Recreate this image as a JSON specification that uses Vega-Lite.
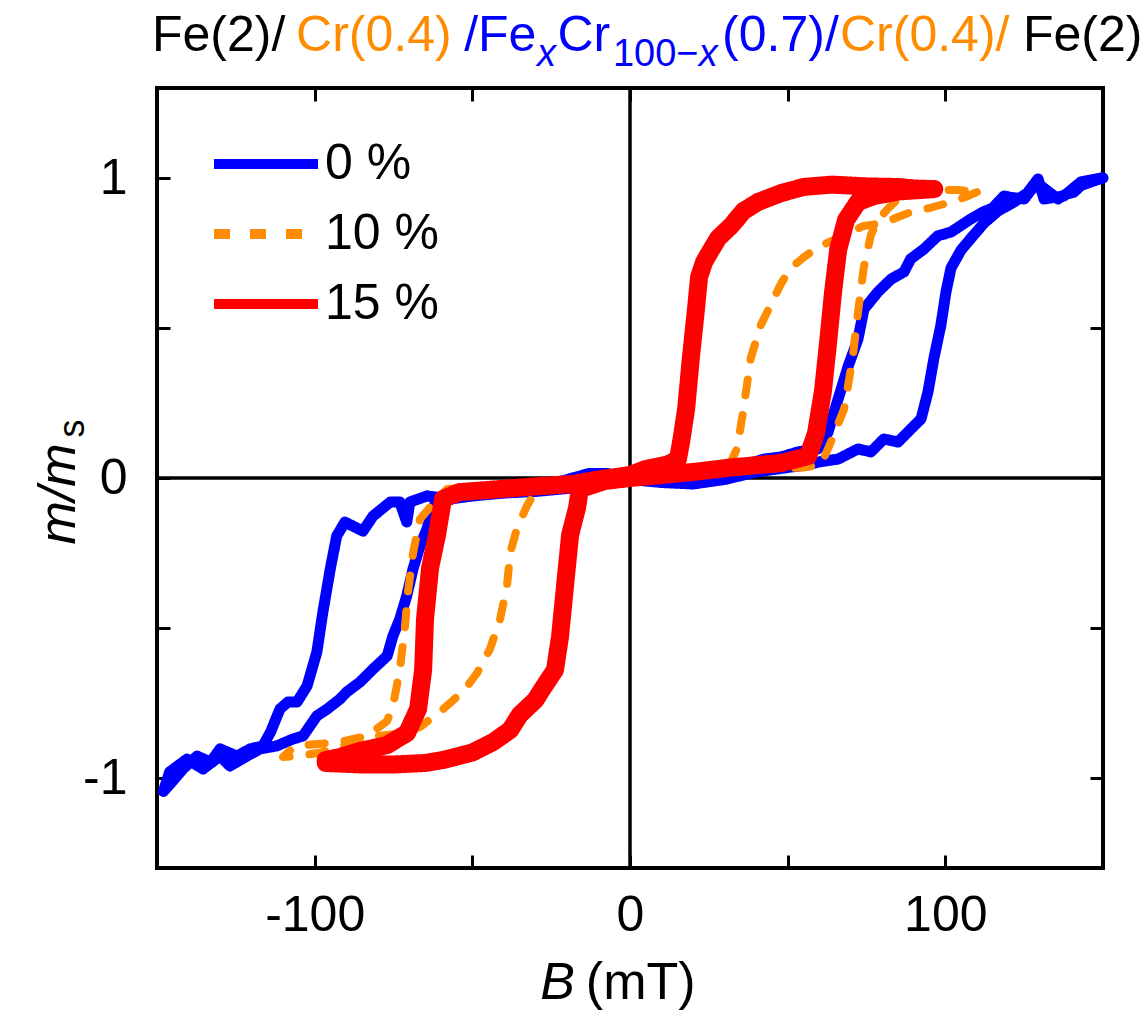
{
"$schema": "https://vega.github.io/schema/vega-lite/v6.json",
"width": 946, "height": 780,
"autosize": {"type": "none"},
"padding": {"left": 157, "top": 88, "right": 43, "bottom": 156},
"background": "white",
"config": {
  "font": "Liberation Sans",
  "view": {"stroke": "black", "strokeWidth": 4},
  "axis": {"domain": false, "grid": false, "tickColor": "black", "tickWidth": 3, "labelColor": "black", "labelFont": "Liberation Sans", "labelFontSize": 50, "title": null},
  "legend": {"orient": "top-left", "offset": 27, "padding": 4, "symbolOffset": 33, "symbolType": "M-1.3,0L1.3,0", "symbolSize": 6400, "symbolStrokeWidth": 10, "labelFontSize": 50, "labelColor": "black", "labelFont": "Liberation Sans", "rowPadding": -2, "labelOffset": 14, "title": null}
},
"datasets": {
"loops": [
{"series":"0 %","B":150,"m":1.0},{"series":"0 %","B":147,"m":0.99},{"series":"0 %","B":143,"m":0.975},{"series":"0 %","B":140.8,"m":0.953},{"series":"0 %","B":138,"m":0.945},{"series":"0 %","B":135.7,"m":0.93},{"series":"0 %","B":132,"m":0.96},{"series":"0 %","B":129,"m":0.985},{"series":"0 %","B":125,"m":0.93},{"series":"0 %","B":121,"m":0.935},{"series":"0 %","B":118.6,"m":0.94},{"series":"0 %","B":115,"m":0.9},{"series":"0 %","B":112,"m":0.887},{"series":"0 %","B":108,"m":0.863},{"series":"0 %","B":104,"m":0.835},{"series":"0 %","B":101.8,"m":0.82},{"series":"0 %","B":97.6,"m":0.807},{"series":"0 %","B":93.2,"m":0.763},{"series":"0 %","B":89,"m":0.73},{"series":"0 %","B":86.9,"m":0.687},{"series":"0 %","B":82.8,"m":0.663},{"series":"0 %","B":78.6,"m":0.62},{"series":"0 %","B":74.2,"m":0.563},{"series":"0 %","B":72.3,"m":0.463},{"series":"0 %","B":69.2,"m":0.373},{"series":"0 %","B":66,"m":0.263},{"series":"0 %","B":62.8,"m":0.153},{"series":"0 %","B":59.6,"m":0.097},{"series":"0 %","B":53.3,"m":0.087},{"series":"0 %","B":47.9,"m":0.07},{"series":"0 %","B":42.5,"m":0.063},{"series":"0 %","B":37.4,"m":0.047},{"series":"0 %","B":26.6,"m":0.03},{"series":"0 %","B":18,"m":0.02},{"series":"0 %","B":10.8,"m":0.007},{"series":"0 %","B":0,"m":0.0},{"series":"0 %","B":-10,"m":-0.02},{"series":"0 %","B":-20,"m":-0.035},{"series":"0 %","B":-30,"m":-0.045},{"series":"0 %","B":-40,"m":-0.05},{"series":"0 %","B":-50,"m":-0.06},{"series":"0 %","B":-57,"m":-0.07},{"series":"0 %","B":-64.4,"m":-0.06},{"series":"0 %","B":-69.8,"m":-0.08},{"series":"0 %","B":-70.8,"m":-0.147},{"series":"0 %","B":-73,"m":-0.08},{"series":"0 %","B":-76,"m":-0.08},{"series":"0 %","B":-81.5,"m":-0.127},{"series":"0 %","B":-84.7,"m":-0.177},{"series":"0 %","B":-90.4,"m":-0.147},{"series":"0 %","B":-93,"m":-0.193},{"series":"0 %","B":-95,"m":-0.3},{"series":"0 %","B":-97.4,"m":-0.447},{"series":"0 %","B":-99.3,"m":-0.58},{"series":"0 %","B":-102.4,"m":-0.693},{"series":"0 %","B":-105.6,"m":-0.747},{"series":"0 %","B":-108.5,"m":-0.747},{"series":"0 %","B":-111,"m":-0.77},{"series":"0 %","B":-114,"m":-0.847},{"series":"0 %","B":-116.4,"m":-0.893},{"series":"0 %","B":-120.5,"m":-0.903},{"series":"0 %","B":-124.6,"m":-0.927},{"series":"0 %","B":-130,"m":-0.903},{"series":"0 %","B":-133,"m":-0.947},{"series":"0 %","B":-137.3,"m":-0.927},{"series":"0 %","B":-141.8,"m":-0.97},{"series":"0 %","B":-145,"m":-1.01},{"series":"0 %","B":-148,"m":-1.045},
{"series":"0 %","B":-146,"m":-0.98},{"series":"0 %","B":-140.5,"m":-0.937},{"series":"0 %","B":-135.4,"m":-0.97},{"series":"0 %","B":-130,"m":-0.927},{"series":"0 %","B":-126.9,"m":-0.96},{"series":"0 %","B":-121.5,"m":-0.927},{"series":"0 %","B":-117.3,"m":-0.903},{"series":"0 %","B":-112,"m":-0.893},{"series":"0 %","B":-106.9,"m":-0.87},{"series":"0 %","B":-103.7,"m":-0.86},{"series":"0 %","B":-99.3,"m":-0.793},{"series":"0 %","B":-96,"m":-0.77},{"series":"0 %","B":-92,"m":-0.737},{"series":"0 %","B":-89.8,"m":-0.713},{"series":"0 %","B":-85.6,"m":-0.68},{"series":"0 %","B":-81.5,"m":-0.637},{"series":"0 %","B":-77,"m":-0.593},{"series":"0 %","B":-75.2,"m":-0.527},{"series":"0 %","B":-73,"m":-0.47},{"series":"0 %","B":-70.8,"m":-0.393},{"series":"0 %","B":-68.8,"m":-0.303},{"series":"0 %","B":-66.6,"m":-0.227},{"series":"0 %","B":-64.4,"m":-0.17},{"series":"0 %","B":-62.5,"m":-0.103},{"series":"0 %","B":-61.2,"m":-0.07},{"series":"0 %","B":-57,"m":-0.047},{"series":"0 %","B":-45,"m":-0.04},{"series":"0 %","B":-35,"m":-0.035},{"series":"0 %","B":-25,"m":-0.02},{"series":"0 %","B":-13,"m":0.015},{"series":"0 %","B":-7,"m":0.015},{"series":"0 %","B":0,"m":-0.005},{"series":"0 %","B":10,"m":-0.015},{"series":"0 %","B":20,"m":-0.02},{"series":"0 %","B":30,"m":-0.005},{"series":"0 %","B":40,"m":0.02},{"series":"0 %","B":50,"m":0.035},{"series":"0 %","B":57,"m":0.045},{"series":"0 %","B":59.6,"m":0.053},{"series":"0 %","B":66,"m":0.063},{"series":"0 %","B":72.3,"m":0.097},{"series":"0 %","B":76.4,"m":0.087},{"series":"0 %","B":80.5,"m":0.13},{"series":"0 %","B":85,"m":0.12},{"series":"0 %","B":90,"m":0.173},{"series":"0 %","B":92.3,"m":0.197},{"series":"0 %","B":94.5,"m":0.287},{"series":"0 %","B":96.4,"m":0.4},{"series":"0 %","B":98.6,"m":0.51},{"series":"0 %","B":100.2,"m":0.62},{"series":"0 %","B":101.8,"m":0.7},{"series":"0 %","B":105,"m":0.76},{"series":"0 %","B":109,"m":0.81},{"series":"0 %","B":112.3,"m":0.85},{"series":"0 %","B":116.7,"m":0.89},{"series":"0 %","B":121.8,"m":0.92},{"series":"0 %","B":126,"m":0.95},{"series":"0 %","B":129.4,"m":0.997},{"series":"0 %","B":131.3,"m":0.93},{"series":"0 %","B":137.6,"m":0.94},{"series":"0 %","B":143,"m":0.987},{"series":"0 %","B":149.4,"m":1.0},
{"series":"10 %","B":110,"m":0.953},{"series":"10 %","B":106,"m":0.935},{"series":"10 %","B":101.8,"m":0.92},{"series":"10 %","B":95,"m":0.9},{"series":"10 %","B":90,"m":0.89},{"series":"10 %","B":85,"m":0.87},{"series":"10 %","B":80.5,"m":0.85},{"series":"10 %","B":74,"m":0.84},{"series":"10 %","B":70,"m":0.82},{"series":"10 %","B":66,"m":0.8},{"series":"10 %","B":59.6,"m":0.77},{"series":"10 %","B":55,"m":0.735},{"series":"10 %","B":51,"m":0.7},{"series":"10 %","B":48,"m":0.65},{"series":"10 %","B":45.7,"m":0.6},{"series":"10 %","B":41.5,"m":0.51},{"series":"10 %","B":38.3,"m":0.4},{"series":"10 %","B":36,"m":0.23},{"series":"10 %","B":34,"m":0.1},{"series":"10 %","B":32,"m":0.053},{"series":"10 %","B":25,"m":0.04},{"series":"10 %","B":15,"m":0.03},{"series":"10 %","B":0,"m":0.005},{"series":"10 %","B":-15,"m":-0.015},{"series":"10 %","B":-30,"m":-0.025},{"series":"10 %","B":-45,"m":-0.03},{"series":"10 %","B":-55,"m":-0.033},{"series":"10 %","B":-58,"m":-0.037},{"series":"10 %","B":-61.2,"m":-0.07},{"series":"10 %","B":-66.6,"m":-0.137},{"series":"10 %","B":-68.8,"m":-0.25},{"series":"10 %","B":-70.4,"m":-0.38},{"series":"10 %","B":-71.4,"m":-0.5},{"series":"10 %","B":-73,"m":-0.64},{"series":"10 %","B":-75,"m":-0.75},{"series":"10 %","B":-77,"m":-0.81},{"series":"10 %","B":-83.4,"m":-0.86},{"series":"10 %","B":-92,"m":-0.88},{"series":"10 %","B":-102.4,"m":-0.89},{"series":"10 %","B":-107,"m":-0.9},{"series":"10 %","B":-110,"m":-0.93},
{"series":"10 %","B":-104,"m":-0.925},{"series":"10 %","B":-98,"m":-0.915},{"series":"10 %","B":-90,"m":-0.89},{"series":"10 %","B":-80,"m":-0.86},{"series":"10 %","B":-72,"m":-0.85},{"series":"10 %","B":-66.6,"m":-0.83},{"series":"10 %","B":-60.3,"m":-0.78},{"series":"10 %","B":-56,"m":-0.74},{"series":"10 %","B":-52,"m":-0.7},{"series":"10 %","B":-48.5,"m":-0.65},{"series":"10 %","B":-44.4,"m":-0.57},{"series":"10 %","B":-41.2,"m":-0.47},{"series":"10 %","B":-39,"m":-0.36},{"series":"10 %","B":-38,"m":-0.25},{"series":"10 %","B":-35.9,"m":-0.17},{"series":"10 %","B":-32.7,"m":-0.093},{"series":"10 %","B":-29.5,"m":-0.037},{"series":"10 %","B":-20,"m":-0.02},{"series":"10 %","B":0,"m":0.0},{"series":"10 %","B":20,"m":0.02},{"series":"10 %","B":40,"m":0.03},{"series":"10 %","B":55,"m":0.035},{"series":"10 %","B":60.6,"m":0.045},{"series":"10 %","B":63.7,"m":0.12},{"series":"10 %","B":67.9,"m":0.23},{"series":"10 %","B":70.6,"m":0.4},{"series":"10 %","B":72.4,"m":0.56},{"series":"10 %","B":74.1,"m":0.7},{"series":"10 %","B":76.4,"m":0.81},{"series":"10 %","B":78.6,"m":0.86},{"series":"10 %","B":82,"m":0.9},{"series":"10 %","B":85,"m":0.93},{"series":"10 %","B":91,"m":0.95},{"series":"10 %","B":97.6,"m":0.96},{"series":"10 %","B":104,"m":0.96},{"series":"10 %","B":110,"m":0.953},
{"series":"15 %","B":96.5,"m":0.963},{"series":"15 %","B":90,"m":0.965},{"series":"15 %","B":85,"m":0.97},{"series":"15 %","B":75,"m":0.972},{"series":"15 %","B":64,"m":0.978},{"series":"15 %","B":55,"m":0.97},{"series":"15 %","B":48,"m":0.95},{"series":"15 %","B":40.6,"m":0.92},{"series":"15 %","B":36,"m":0.89},{"series":"15 %","B":32,"m":0.84},{"series":"15 %","B":28,"m":0.8},{"series":"15 %","B":25.7,"m":0.76},{"series":"15 %","B":23.5,"m":0.72},{"series":"15 %","B":21.9,"m":0.67},{"series":"15 %","B":20.9,"m":0.56},{"series":"15 %","B":19.3,"m":0.4},{"series":"15 %","B":17.8,"m":0.23},{"series":"15 %","B":16.2,"m":0.12},{"series":"15 %","B":15.2,"m":0.063},{"series":"15 %","B":12,"m":0.045},{"series":"15 %","B":5,"m":0.03},{"series":"15 %","B":0,"m":0.01},{"series":"15 %","B":-10,"m":-0.005},{"series":"15 %","B":-18,"m":-0.02},{"series":"15 %","B":-32.7,"m":-0.03},{"series":"15 %","B":-45,"m":-0.04},{"series":"15 %","B":-54,"m":-0.047},{"series":"15 %","B":-59.3,"m":-0.07},{"series":"15 %","B":-61.2,"m":-0.19},{"series":"15 %","B":-63.4,"m":-0.3},{"series":"15 %","B":-65,"m":-0.47},{"series":"15 %","B":-65.6,"m":-0.64},{"series":"15 %","B":-67.2,"m":-0.77},{"series":"15 %","B":-70.7,"m":-0.85},{"series":"15 %","B":-77,"m":-0.89},{"series":"15 %","B":-85.6,"m":-0.91},{"series":"15 %","B":-92,"m":-0.93},{"series":"15 %","B":-96.5,"m":-0.94},
{"series":"15 %","B":-96.5,"m":-0.95},{"series":"15 %","B":-85,"m":-0.955},{"series":"15 %","B":-75,"m":-0.955},{"series":"15 %","B":-65,"m":-0.95},{"series":"15 %","B":-59.3,"m":-0.94},{"series":"15 %","B":-50,"m":-0.915},{"series":"15 %","B":-43.4,"m":-0.88},{"series":"15 %","B":-38,"m":-0.84},{"series":"15 %","B":-35,"m":-0.79},{"series":"15 %","B":-30,"m":-0.74},{"series":"15 %","B":-27.6,"m":-0.7},{"series":"15 %","B":-23.8,"m":-0.64},{"series":"15 %","B":-22.2,"m":-0.53},{"series":"15 %","B":-20.6,"m":-0.36},{"series":"15 %","B":-19,"m":-0.19},{"series":"15 %","B":-16.8,"m":-0.1},{"series":"15 %","B":-15.9,"m":-0.037},{"series":"15 %","B":-8,"m":-0.01},{"series":"15 %","B":0,"m":0.0},{"series":"15 %","B":10,"m":0.01},{"series":"15 %","B":20,"m":0.02},{"series":"15 %","B":32,"m":0.035},{"series":"15 %","B":48,"m":0.05},{"series":"15 %","B":56.5,"m":0.073},{"series":"15 %","B":59,"m":0.15},{"series":"15 %","B":61.2,"m":0.29},{"series":"15 %","B":62.8,"m":0.45},{"series":"15 %","B":64.4,"m":0.62},{"series":"15 %","B":66,"m":0.76},{"series":"15 %","B":68.5,"m":0.86},{"series":"15 %","B":72.3,"m":0.92},{"series":"15 %","B":77.4,"m":0.94},{"series":"15 %","B":85,"m":0.955},{"series":"15 %","B":96.5,"m":0.963}
]
},
"resolve": {"axis": {"x": "independent", "y": "independent"}},
"layer": [
 {"data": {"values": [{}]}, "mark": {"type": "rule", "color": "black", "strokeWidth": 3.5},
  "encoding": {"x": {"datum": 0, "type": "quantitative", "axis": {"orient": "top", "values": [-100,-50,0,50,100], "labels": false, "tickSize": -13}}}},
 {"data": {"values": [{}]}, "mark": {"type": "rule", "color": "black", "strokeWidth": 3.5},
  "encoding": {"y": {"datum": 0, "type": "quantitative", "axis": {"orient": "right", "values": [-1,-0.5,0,0.5,1], "labels": false, "tickSize": -13}}}},
 {"data": {"name": "loops"}, "transform": [{"filter": "datum.series == '0 %'"}],
  "mark": {"type": "line", "strokeWidth": 11, "strokeCap": "round", "strokeJoin": "round"},
  "encoding": {
   "x": {"field": "B", "type": "quantitative", "scale": {"domain": [-150, 150], "nice": false, "zero": false}, "axis": {"orient": "bottom", "values": [-100,-50,0,50,100], "tickSize": -13, "labelPadding": 35, "labelExpr": "abs(datum.value) == 50 ? '' : toString(datum.value)"}},
   "y": {"field": "m", "type": "quantitative", "scale": {"domain": [-1.3, 1.3], "nice": false, "zero": false}, "axis": {"orient": "left", "values": [-1,-0.5,0,0.5,1], "tickSize": -13, "labelPadding": 43, "labelExpr": "datum.value == 1 ? '1' : datum.value == 0 ? '0' : datum.value == -1 ? '-1' : ''"}},
   "color": {"field": "series", "type": "nominal", "scale": {"domain": ["0 %", "10 %", "15 %"], "range": ["#0000FF", "#FF8C00", "#FF0000"]}},
   "strokeDash": {"field": "series", "type": "nominal", "scale": {"domain": ["0 %", "10 %", "15 %"], "range": [[1, 0], [16, 20], [1, 0]]}},
   "order": {"value": null}
  }},
 {"data": {"name": "loops"}, "transform": [{"filter": "datum.series == '10 %'"}],
  "mark": {"type": "line", "strokeWidth": 8, "strokeCap": "round", "strokeJoin": "round"},
  "encoding": {
   "x": {"field": "B", "type": "quantitative", "axis": null},
   "y": {"field": "m", "type": "quantitative", "axis": null},
   "color": {"field": "series", "type": "nominal"},
   "strokeDash": {"field": "series", "type": "nominal"},
   "order": {"value": null}
  }},
 {"data": {"name": "loops"}, "transform": [{"filter": "datum.series == '15 %'"}],
  "mark": {"type": "line", "strokeWidth": 18, "strokeCap": "round", "strokeJoin": "round"},
  "encoding": {
   "x": {"field": "B", "type": "quantitative", "axis": null},
   "y": {"field": "m", "type": "quantitative", "axis": null},
   "color": {"field": "series", "type": "nominal"},
   "strokeDash": {"field": "series", "type": "nominal"},
   "order": {"value": null}
  }},
 {"data": {"values": [{}]}, "mark": {"type": "text", "text": "Fe(2)/", "fontSize": 50, "align": "left", "baseline": "alphabetic", "color": "black"},
  "encoding": {"x": {"datum": -151.6, "type": "quantitative", "axis": null}, "y": {"datum": 1.423, "type": "quantitative", "axis": null}}},
 {"data": {"values": [{}]}, "mark": {"type": "text", "text": "Cr(0.4)", "fontSize": 50, "align": "left", "baseline": "alphabetic", "color": "#FF8C00"},
  "encoding": {"x": {"datum": -105.9, "type": "quantitative", "axis": null}, "y": {"datum": 1.423, "type": "quantitative", "axis": null}}},
 {"data": {"values": [{}]}, "mark": {"type": "text", "text": "/Fe", "fontSize": 50, "align": "left", "baseline": "alphabetic", "color": "#0000FF"},
  "encoding": {"x": {"datum": -52.6, "type": "quantitative", "axis": null}, "y": {"datum": 1.423, "type": "quantitative", "axis": null}}},
 {"data": {"values": [{}]}, "mark": {"type": "text", "text": "x", "fontSize": 38, "fontStyle": "italic", "align": "left", "baseline": "alphabetic", "color": "#0000FF"},
  "encoding": {"x": {"datum": -29.5, "type": "quantitative", "axis": null}, "y": {"datum": 1.373, "type": "quantitative", "axis": null}}},
 {"data": {"values": [{}]}, "mark": {"type": "text", "text": "Cr", "fontSize": 50, "align": "left", "baseline": "alphabetic", "color": "#0000FF"},
  "encoding": {"x": {"datum": -23.0, "type": "quantitative", "axis": null}, "y": {"datum": 1.423, "type": "quantitative", "axis": null}}},
 {"data": {"values": [{}]}, "mark": {"type": "text", "text": "100−", "fontSize": 38, "align": "left", "baseline": "alphabetic", "color": "#0000FF"},
  "encoding": {"x": {"datum": -5.4, "type": "quantitative", "axis": null}, "y": {"datum": 1.373, "type": "quantitative", "axis": null}}},
 {"data": {"values": [{}]}, "mark": {"type": "text", "text": "x", "fontSize": 38, "fontStyle": "italic", "align": "left", "baseline": "alphabetic", "color": "#0000FF"},
  "encoding": {"x": {"datum": 21.8, "type": "quantitative", "axis": null}, "y": {"datum": 1.373, "type": "quantitative", "axis": null}}},
 {"data": {"values": [{}]}, "mark": {"type": "text", "text": "(0.7)/", "fontSize": 50, "align": "left", "baseline": "alphabetic", "color": "#0000FF"},
  "encoding": {"x": {"datum": 29.2, "type": "quantitative", "axis": null}, "y": {"datum": 1.423, "type": "quantitative", "axis": null}}},
 {"data": {"values": [{}]}, "mark": {"type": "text", "text": "Cr(0.4)/", "fontSize": 50, "align": "left", "baseline": "alphabetic", "color": "#FF8C00"},
  "encoding": {"x": {"datum": 66.6, "type": "quantitative", "axis": null}, "y": {"datum": 1.423, "type": "quantitative", "axis": null}}},
 {"data": {"values": [{}]}, "mark": {"type": "text", "text": "Fe(2)", "fontSize": 50, "align": "left", "baseline": "alphabetic", "color": "black"},
  "encoding": {"x": {"datum": 124.6, "type": "quantitative", "axis": null}, "y": {"datum": 1.423, "type": "quantitative", "axis": null}}},
 {"data": {"values": [{}]}, "mark": {"type": "text", "text": "m/m", "fontSize": 52, "fontStyle": "italic", "angle": 270, "align": "center", "baseline": "alphabetic", "color": "black"},
  "encoding": {"x": {"datum": -176, "type": "quantitative", "axis": null}, "y": {"datum": -0.053, "type": "quantitative", "axis": null}}},
 {"data": {"values": [{}]}, "mark": {"type": "text", "text": "s", "fontSize": 36, "angle": 270, "align": "center", "baseline": "alphabetic", "color": "black"},
  "encoding": {"x": {"datum": -173, "type": "quantitative", "axis": null}, "y": {"datum": 0.165, "type": "quantitative", "axis": null}}},
 {"data": {"values": [{}]}, "mark": {"type": "text", "text": "B", "fontSize": 52, "fontStyle": "italic", "align": "left", "baseline": "alphabetic", "color": "black"},
  "encoding": {"x": {"datum": -28.5, "type": "quantitative", "axis": null}, "y": {"datum": -1.737, "type": "quantitative", "axis": null}}},
 {"data": {"values": [{}]}, "mark": {"type": "text", "text": "(mT)", "fontSize": 52, "align": "left", "baseline": "alphabetic", "color": "black"},
  "encoding": {"x": {"datum": -14.0, "type": "quantitative", "axis": null}, "y": {"datum": -1.737, "type": "quantitative", "axis": null}}}
]
}
